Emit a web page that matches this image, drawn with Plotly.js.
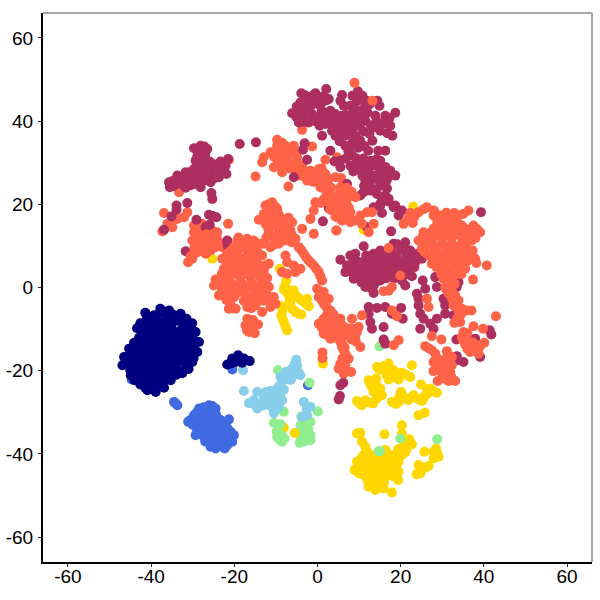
<!DOCTYPE html>
<html>
<head>
<meta charset="utf-8">
<script src="https://cdn.plot.ly/plotly-3.0.1.min.js"></script>
<style>html,body{margin:0;padding:0;background:#fff}</style>
</head>
<body>
<div id="chart" style="width:600px;height:600px"></div>
<script>
var tickVals = [-60, -40, -20, 0, 20, 40, 60];
var tickLabels = ['-60', '-40', '-20', '0', '20', '40', '60'];

// values, as [x, y]
var goldPts = [[22.7,-18.7],[14.3,-19.1],[17.1,-18.3],[15.9,-19.9],[18.3,-19.9],[20.3,-20.5],[22.3,-21.5],[19.5,-22.1],[17.1,-22.1],[12.3,-22.3],[14.1,-21.9],[13.1,-23.9],[15.1,-24.3],[13.5,-25.1],[15.5,-25.9],[14.3,-26.7],[9.5,-27.3],[10.6,-28.3],[11.5,-27.1],[13.4,-27.9],[24.9,-23.3],[20.1,-25.1],[17.9,-27.5],[19.5,-27.5],[21.1,-26.7],[23.1,-25.9],[21.9,-27.1],[25.1,-27.3],[25.9,-25.9],[27.1,-24.3],[28.7,-25.3],[24.3,-30.7],[25.8,-30.1],
[16,-18.9],[14.9,-19.7],[17,-20],[19.1,-20.6],[16.6,-21],[21.3,-21],[18.3,-21.5],[14,-23],[14.5,-25],[14.7,-25.8],[18.6,-27.8],[20.5,-26.3],[22.6,-26.4],[24.2,-26.8],[26.5,-25.5],[28,-25],[25.5,-26.5],[26.4,-24.5],[19.7,-26.3],[18.9,-28],[9.9,-27.7],[12.6,-27.7],[13.8,-24.6],[12.7,-23.2],
[10.3,-34.9],[9.5,-35.1],[16.1,-35.3],[20.3,-33.1],[20.3,-35.1],[10.7,-37.1],[11.5,-38.3],[21.1,-37.1],[22.7,-37.7],[21.5,-38.7],[16.3,-39.1],[25.7,-39.5],[27.9,-39.5],[29.1,-40.7],[27.9,-41.1],[20.3,-40.3],[19.5,-41.9],[11.1,-40.3],[13.5,-41.5],[16.7,-41.5],[9.5,-41.9],[8.9,-43.9],[10.3,-43.5],[11.9,-43.1],[14.3,-43.5],[16.3,-43.5],[17.9,-43.5],[11.1,-45.1],[13.1,-45.1],[15.1,-45.1],[17.1,-45.1],[19.5,-44.3],[19.4,-46.3],[12.3,-47.9],[13.9,-48.7],[15.9,-48.3],[13.1,-46.7],[15.1,-46.7],[17.9,-49.3],[24.3,-42.7],[26.7,-42.9],[24.7,-44.7],[23.8,-44.9],[12.7,-41.5],[14.7,-40.3],[11.1,-42.3],[15.1,-41.9],[12.1,-39.6],
[11.7,-39.2],[12.6,-40.3],[10.4,-41.2],[12,-41],[13.8,-42.5],[15.6,-42.6],[17.4,-42.4],[16.1,-40.4],[17.9,-41.9],[18.6,-42.8],[9.7,-42.8],[11,-44.2],[12.6,-44.1],[13.8,-44.4],[15.3,-44],[17.3,-44.3],[18.6,-44.4],[10,-44.7],[12,-45.6],[14,-45.7],[16,-45.6],[18,-45.3],[12,-46.3],[14,-47],[16,-46.9],[12.9,-47.8],[14.8,-47.9],[13.2,-43],[15.2,-43],[12.3,-43.9],[16,-41.9],[17.6,-40.3],[19.3,-40.3],[21.1,-39.6],[20.4,-38.5],[18.9,-43],[19.4,-38.9],[22.1,-36.5],[28.5,-38.7],[28.8,-39.8],[28.3,-40.5],[25.3,-43.5],[25.9,-43.3],
[-7.5,1.7],[-8.1,-0.5],[-5.7,-0.7],[-6.9,-1.9],[-4.9,-2.3],[-3.3,-3.5],[-2.1,-4.5],[-6.5,-4.3],[-5.3,-5.9],[-3.9,-6.5],[-8.7,-4.5],[-8.7,-6.7],[-8.1,-8.3],[-7.3,-10.3],[-25.3,6.9],[-27.7,9.9],[-9.1,4.5],[-2.5,-2.7],[-8.1,-33.7],[1.3,-18.3],[23,19.4],[11.1,13.9],
[-7.8,0.4],[-7,-0.8],[-6.3,-1.3],[-4.1,-2.9],[-6,-5.2],[-4.6,-6.3],[-8.4,-5.6],[-8.4,-7.5],[-7.7,-9.3],[-7.4,-1],[-6.3,-2.8],[-6.7,-3.2],[-2.7,-4]];
var goldTopPts = [[-5.5,-35]];
var greenPts = [[-9.5,-19.9],[-8.1,-29.9],[0.1,-29.8],[-3.9,-31],[-10.5,-32.5],[-8.9,-32.9],[-9.3,-35.1],[-8.5,-37.1],[-7.9,-36.3],[-9.7,-35.9],[-4.1,-33.1],[-1.7,-32.3],[-2.5,-33.9],[-4.1,-34.7],[-1.7,-35.5],[-2.9,-36.7],[-4.3,-37.3],[-1.7,-36.7],[-3.3,-35.5],
[-9.3,-36.5],[-3.1,-33.6],[-2.4,-35.2],[-3.9,-35.9],[-3.1,-37],[-2.2,-34.2],[-9.8,-34.7],[-3.5,-32.4],[-2.6,-32],[-8.6,-35.6],[-2.9,-34.6]];
var greenTopPts = [[-1.9,-22.9],[14.9,-14.2],[19.9,-36.3],[28.8,-36.5],[14.7,-39.4],[15,-39.4]];
var skyPts = [[-5.1,-17.4],[-4.9,-18.7],[-6.1,-19.5],[-7.7,-20.3],[-8.9,-21.5],[-4.1,-21.1],[-6.1,-21.5],[-8.3,-22.3],[-10.1,-24.7],[-8.1,-24.6],[-11.7,-25.5],[-14.5,-25.1],[-12.9,-26.7],[-10.5,-26.7],[-8.5,-27.1],[-15.3,-27.1],[-16.5,-27.8],[-14.5,-29.1],[-10.9,-28.7],[-10.5,-30.2],[-9.3,-28.7],[-3.3,-27.5],[-1.7,-28.7],[-2.5,-30.7],[-3.7,-31.1],[-17.7,-24.9],[-17.9,-19.9],[-6.9,-20.9],[-9.5,-25.6],[-11.3,-27.2],[-13.6,-27.9],
[-5,-20],[-7,-20.2],[-6.4,-22.2],[-9,-26],[-9.7,-27.7],[-11,-26.2],[-12.5,-25.2],[-13.3,-28.4],[-15,-28.2],[-11.4,-24.9],[-9.2,-23.7],[-10.1,-29.3],[-12,-28.2],[-2.6,-29.2],[-5.5,-18.4],[-4.6,-20.4],[-8,-21],[-7,-22.1]];
var royalPts = [[-26.1,-28.3],[-28.5,-29.1],[-24.5,-29.1],[-27.3,-29.9],[-25.3,-30.7],[-29.7,-30.7],[-30.5,-31.8],[-31.1,-32.3],[-28.9,-32.3],[-26.9,-31.9],[-24.1,-32.3],[-21.3,-31.7],[-22.1,-33.1],[-28.1,-33.9],[-25.7,-33.9],[-23.3,-34.3],[-20.9,-34.7],[-29.3,-35.5],[-27.3,-35.9],[-24.9,-35.5],[-22.5,-35.9],[-20.5,-37.1],[-26.1,-37.1],[-24.1,-37.5],[-21.7,-37.9],[-24.5,-38.7],[-22.3,-38.7],[-25.7,-38.3],[-20.1,-35.5],[-34.5,-27.5],[-33.7,-28.3],[-34.1,-27.9],[-20.5,-19.7],[-44.7,-22.1],[-2.3,-23.5],
[-27.3,-28.8],[-25.3,-28.5],[-29.1,-30.2],[-26.4,-30.5],[-28.2,-30.8],[-24.4,-30.6],[-30,-33],[-27.8,-32.8],[-25.7,-32.5],[-23.4,-31.8],[-29,-34],[-26.9,-34],[-24.7,-33.3],[-22.6,-32.6],[-21.6,-33.9],[-22.1,-34.8],[-28.3,-35],[-25.8,-35.4],[-23.7,-35.2],[-21.2,-36],[-27,-37],[-23.3,-36.6],[-25,-36.8],[-21.9,-36.8],[-23,-38.2],[-24.9,-37.7],[-20.8,-35.6]];
var navyPts = [[-35.7,-5.5],[-37.8,-5.1],[-41.4,-6.1],[-39.3,-6.7],[-42.6,-8.6],[-43.4,-9.8],[-32.9,-6.3],[-30.1,-8.6],[-29.3,-10.7],[-28.5,-13.1],[-28.9,-15.5],[-30.1,-17.9],[-45.3,-14.7],[-46.5,-16.7],[-46.9,-18.7],[-44.9,-21.1],[-42.6,-23.3],[-40.9,-24.7],[-38.9,-25.1],[-36.9,-24.1],[-35.3,-22.3],[-32.5,-20.6],
[-36.2,-7.2],[-33.8,-8],[-38.1,-8.3],[-31.7,-9.6],[-40.3,-9],[-35.1,-9.6],[-37.2,-10],[-33,-10.4],[-39.2,-10.8],[-41.4,-10.6],[-30.9,-11.9],[-34.6,-11.7],[-36.7,-12],[-32.6,-12.5],[-38.8,-12.6],[-42.9,-12.1],[-40.7,-12.7],[-44.1,-13.3],[-30.4,-14],[-34.4,-13.8],[-36.3,-14.2],[-32.2,-14.6],[-38.4,-14.6],[-42.2,-14.4],[-40.3,-14.9],[-44.4,-15.7],[-30.5,-16.2],[-34.1,-16],[-36.1,-16.3],[-32.2,-16.8],[-38.1,-16.6],[-42.2,-16.5],[-40,-17],[-44.1,-17.6],[-45.5,-18.7],[-31.6,-18.5],[-33.9,-18.1],[-35.9,-18.4],[-37.8,-18.7],[-42.1,-18.6],[-39.9,-19.1],[-44,-19.6],[-33.2,-19.9],[-35.4,-20.4],[-37.4,-20.6],[-39.5,-21],[-41.7,-20.7],[-43.2,-21.4],[-36.5,-22.1],[-38.7,-22.9],[-41,-22.7],[-37.2,-23.8],[-39.9,-24.4],[-41.4,-24.1],
[-34.8,-6.5],[-37,-6.2],[-31.5,-7.5],[-41,-7.6],[-38.7,-7.5],[-34.9,-8.2],[-32.4,-8.7],[-36.6,-8.7],[-41.7,-9.5],[-39,-9.3],[-30.3,-10.2],[-32,-11],[-33.8,-11],[-35.9,-11],[-37.9,-11.4],[-40.2,-11.3],[-42.2,-11.1],[-29.7,-12.7],[-31.6,-13.1],[-33.5,-12.9],[-35.5,-13],[-37.5,-13.3],[-39.7,-13.7],[-41.8,-13.3],[-43.5,-14.3],[-29.7,-15],[-31.4,-15.3],[-33.3,-15],[-35.2,-15.2],[-37.3,-15.5],[-39.3,-15.8],[-41.3,-15.6],[-43.3,-16.3],[-45.3,-16.8],[-29.8,-17],[-32.9,-17.4],[-35,-17.3],[-37,-17.6],[-39,-18],[-41.1,-17.8],[-43.2,-18.4],[-45,-19.9],[-31,-19.6],[-34.5,-19.4],[-36.7,-19.5],[-38.7,-20],[-40.8,-19.6],[-42.6,-20.1],[-34,-21],[-36.3,-21.3],[-38.3,-21.6],[-40.4,-21.8],[-42.4,-22.1],[-44,-22.3],[-37.5,-22.8],[-39.8,-23.4],
[-19.1,-16.3],[-20.5,-17.1],[-21.7,-18.5],[-17.7,-17.1],[-16.3,-17.7],[-19.7,-17.9],[-18.1,-18.1],[-18.9,-16.9],[-20.9,-18.3]];
var orangeBackPts = [[-3.7,37.9],[-9.7,35.5],[-12.9,31.3],[-13.3,30.1],[-9.7,34.1],[-7.7,34.1],[-5.7,34.1],[-1.3,33.9],[-11.3,32.5],[-9.3,32.1],[-6.9,32.1],[-4.9,31.3],[-10.5,28.9],[-8.5,29.3],[-6.9,30.1],[-8.5,27.7],[-5.7,28.5],[-3.7,29.3],[-4.1,26.9],[-1.7,28.1],[0.3,28.5],[1.9,30.7],[4.7,31.3],[-2.5,25.7],[-0.1,26.1],[1.9,27.3],[4.3,26.5],[5.7,26.3],[-14.9,26.7],[-7,24.3],[-21.3,30.7],[-28.3,26.9],[-33.3,22.9],[-36.9,17.9],[-35.3,15.7],[-36.1,15.3],[-37.3,13.5],[-33.7,16.5],[-31.3,18.1],[-32.1,16.9],[-34.9,14.5],[-29.7,14.9],[-27.7,15.3],[-21.5,15.3],[-29.7,13.3],[-27.7,13.7],[-25.3,13.7],[-24.1,13.3],[-22.9,9.7],[-23.7,10.9],[15.9,-12.7],
[-8.5,34.8],[-9.9,32.8],[-8,33.2],[-10.4,31.4],[-8,30.8],[-5.7,32.6],[-9.5,30.2],[-4.8,29.9],[-7,28.7],[-3.5,28],[-5,27.7],[-2.7,26.8],[-1,26.9],[-0.3,27.7],[1,28.6],[0.9,26],[-1,25.4],[2.5,25.5]];
var crimsonPts = [[-28.1,34.1],[-29.7,33.5],[-26.5,33.3],[-28.1,32.3],[-29.3,30.5],[-27.3,30.9],[-25.3,29.7],[-23.3,30.3],[-21.5,30.9],[-22.1,29.3],[-23.7,28.5],[-21.9,27.3],[-23.7,26.5],[-25.7,27.7],[-27.3,28.5],[-29.7,28.5],[-31.7,27.7],[-33.7,26.9],[-35.7,25.3],[-35.5,24.1],[-33.7,25.3],[-31.7,25.7],[-31.7,24],[-29.7,26.1],[-28.1,24.1],[-27.3,25.7],[-25.7,25.3],[-18.7,34.5],[-14.8,34.9],[-25.5,22.7],[-25.3,21.3],[-31.3,20.3],[-33.9,19.7],[-33.9,18.7],[-35.1,17.1],[-36.9,13.9],[-29.1,16.3],[-26.1,17.5],[-24.3,16.9],[-25.2,17.2],[-25.9,15.1],[-26.9,14.5],[-21.7,11.3],[-31.7,8.7],[-21.7,10.9],[-21.5,9.7],[-21.1,6.7],
[-29,33],[-27.2,33.9],[-28.9,31.5],[-27,32],[-27.7,29.5],[-25.9,30.3],[-24.3,29.6],[-28.8,27.5],[-30.8,26.8],[-32.6,26.2],[-34.8,25.6],[-34.6,24.4],[-32.6,24.8],[-30.5,24.6],[-29.3,24.9],[-26.8,26.9],[-24.8,26.3],[-22.8,27.8],[-25.9,29],[-26.3,27.9],[-30.5,27.8],[-28.5,25.7],
[2.1,47.7],[-3.9,46.7],[-0.5,46.7],[5.9,46.3],[-4.1,44.5],[-2.1,45.7],[1.9,44.9],[0.7,43.7],[2.7,45.3],[6.3,43.7],[-6.1,41.9],[-4.5,42.9],[-2.5,43.3],[-1.3,41.7],[-3.3,41.3],[-4.5,39.7],[-2.1,39.7],[0.3,40.9],[1.9,41.7],[1.9,39.3],[4.3,41.7],[5.9,41.3],[4.3,40.1],[7.5,40.9],[5.9,38.5],[7.5,38.9],[3.5,37.7],[5.1,36.5],[7.1,36.9],[1.1,36.5],[3.1,32.9],[-3.1,34.7],[-3.5,33.1],[-2.5,30.7],[4.1,30.3],[5.5,28.9],[7.1,24.9],[2.7,19.1],[1.3,15.9],[-5.7,26.5],
[-3,44.5],[-1.2,44],[-5,43.5],[-5.1,41],[-2.3,42.5],[-0.5,40],[0.8,39.8],[1,42.5],[1.5,46],[0.4,45.7],[2.9,40.8],[-3.3,39.8],[-4,42],[-1,46.3],[-3,46.2],
[5.5,44.9],[10.8,46.1],[6.7,40.1],[4.3,38.9],[7.9,37.7],[11.5,40.1],[10.3,35.3],[6.7,34.1],[13.9,41.3],[16.3,41.3],[18.7,42],[15.1,37.7],[17.5,38.9],[18,36.5],[13.2,35.3],[4.3,36.5],[5.5,30.5],[7.9,29.3],[11.5,29.3],[13.9,26.9],[11.5,25.7],[15.1,24.5],[12.7,23.3],[16.3,22.1],[17.5,28.1],[18.7,26.9],[16.3,32.9],[10.3,22.1],[18.7,19.7],[8.4,31.7],[15.1,19.7],[5.5,40.1],[6.7,36.5],[9.1,40.1],[9.1,36.5],[7.4,32.9],[10.3,42.5],[7.9,43.7],[8.4,46.1],[11.5,43.7],[14.4,44.9],[14.9,43.7],[3.1,42.5],[-0.5,44.9],[-4.1,43.7],[-4.1,40.1],[0.5,38.9],[9.6,29.3],[13.2,29.3],[15.1,30.5],[12.2,32.9],[14.6,32.9],[16.6,25.7],[13.2,26.5],[10.8,26.9],
[3.5,39],[5,39.5],[6.8,41.5],[8.4,41.5],[6.5,38],[8.7,38.6],[10.2,38.8],[11,37.5],[8.5,35],[5.3,35.2],[7.8,33.6],[9.8,33.6],[11.3,34],[12.5,37],[9.7,40.8],[10.7,41.5],[12,42],[12.8,39],[14.2,40],[14.2,38.5],[16,39.5],[17.3,40.7],[16.8,37.1],[11.8,44.9],[12.5,44],[9.5,44.8],[9.7,47.2],[8.6,43],[4,37.9],[6.8,31],[9.4,31],[11,31],[10.1,28.3],[8.6,27.9],[12.9,30.5],[14.2,30.8],[14.9,28.8],[16.3,29],[14.7,25.7],[12.5,24.8],[14,23.5],[16.7,23.8],[17,26.5],[15.5,27.5],[12.2,27.8],[17,20.7],[15.5,21],[11.2,24.4],
[39.3,18.1],[17.7,13.5],[11.9,14.5],[11.1,9.9],[5.5,6.7],[7.9,7.7],[9.1,8.1],[7.1,5.3],[8.3,3.7],[6.7,3.7],[8.7,2.1],[10.7,6.1],[12.7,6.9],[13.5,8.1],[15.1,8.9],[18.3,10.5],[21.1,10.9],[19.9,9.3],[22.3,8.9],[24.3,8.1],[21.5,7.3],[19.1,7.3],[16.7,7.3],[14.7,6.5],[12.3,4.9],[10.7,4.1],[14.3,4.5],[16.3,5.3],[18.7,5.3],[21.1,5.3],[23.5,6.1],[25.1,6.9],[10.7,2.1],[12.7,2.5],[11.5,0.1],[13.5,-1.3],[15.1,1.7],[17.1,3.3],[19.1,3.3],[20.3,1.7],[21.1,0.5],[22.7,2.7],[13.5,0.5],[9.5,4.9],
[9.3,6.5],[11.7,7.7],[14,7.8],[16,8.3],[17.8,8.5],[19.2,10.4],[20.7,9.6],[21.1,8.6],[23.3,8],[16,6.3],[18,6.5],[20,6.1],[22.4,6.7],[24.1,7],[9.3,3.5],[11.4,5.5],[13.3,5.8],[15.3,5.1],[17.3,4.5],[19.6,4.6],[21.7,3.9],[23.3,4.9],[9.5,2.7],[11.5,3.2],[13.6,3.4],[15.4,3.3],[16.4,2.2],[18.4,2.2],[10.6,1.2],[12.3,1.3],[14,1.3],[12.6,0],[20.9,3],[8.3,5.7],[7.8,5],
[11.1,22.9],[14.3,22.5],[17.1,21.3],[15.5,17.9],[18.3,19.3],[19.5,17.3],[13.5,19.3],[15.1,20.1],[20.3,18.5],
[25.3,1.7],[25.9,-0.3],[23.9,-1.5],[24.3,-2.7],[24.3,-4.3],[24.7,-6.3],[25.5,-7.5],[27.1,-8.7],[24.7,-9.9],[27.9,-9.9],[28.7,-7.5],[30.7,-6.3],[30.7,-4.3],[30.3,-2.7],[28.3,2.5],[28.7,0.1],[33.9,1.3],[33.5,0.1],[32.7,-6.7],
[12.3,-4.7],[14.3,-4.9],[16.3,-4.7],[12.3,-6.3],[12.7,-8.3],[13.1,-9.9],[15.9,-9.5],[17.9,-6.3],[20.1,-4.9],[18.7,-5.9],[20.5,-7.5],[15.9,-12.5],[16.3,-13.5],[33.4,-12.5],[37.9,-12.3],[41.4,-10.3],[41.8,-11.3],[33.5,-16.5],[35.1,-17.9],[33.5,-17.5],[39.1,-16.7],[6.2,-22.9],[5.4,-26.1],[5.1,-26.9],[5.5,-23.5]];
var orangePts = [[8.9,49.2],[13.2,44.9],[0.7,24.1],[2.3,22.5],[5.5,24.1],[6.7,22.9],[4.3,21.3],[2.7,20.5],[5.9,20.5],[7.5,19.3],[4.7,16.9],[5.9,16.1],[7.5,16.9],[4.5,13.7],[-0.5,20.5],[0.7,20.3],[-0.9,18.5],[-1.7,16.5],[-0.9,12.9],[-3.7,14.1],
[1.7,23.7],[3.3,24],[3.2,22],[5.2,22.5],[1.5,21.2],[4.6,19.8],[6.4,18],[3.1,18.7],[5.2,17.5],[7,21],[8.2,23],[2.4,26.3],[7,24],
[-10.9,20.5],[-12.5,19.7],[-9.7,18.9],[-12.9,17.7],[-10.9,17.3],[-8.5,16.5],[-14.1,16.3],[-12.5,15.3],[-10.5,14.9],[-6.1,15.7],[-6.5,13.7],[-8.5,13.3],[-11.7,12.9],[-5.3,11.7],[-7.7,11.3],[-9.3,10.5],[-12.9,10.5],[-11.3,9.7],[-10.1,18],[-8.6,15],[-7,16.8],
[-11.8,20],[-10.2,19.5],[-11.6,18.5],[-9.3,17.5],[-12,16.7],[-10,16.2],[-7.6,15.2],[-7.1,14.6],[-11.2,15.5],[-9.7,15],[-11.8,14],[-9.5,13],[-10.5,12.2],[-8,12.5],[-6.2,12.7],[-12.3,12],[-10,11.5],[-8.7,11.8],[-6.2,10.9],[-10.6,10.2],
[-30.1,11.3],[-28.1,11.7],[-26.1,11.7],[-26.5,9.7],[-24.5,9.7],[-29.7,8.1],[-30.1,6.9],[-31.1,6.1],[-26.9,8.1],[-28.9,8.5],
[-28.9,13],[-26.7,12.8],[-25,12.7],[-29.2,10.2],[-27.7,10.7],[-25.4,10.5],[-24.7,11.3],[-29.6,9.5],[-27.3,9],[-25.7,8.9],[-30.5,7.5],[-24.2,11.8],[-28.5,12.2],
[-19.3,11.3],[-16.9,11.7],[-15.3,11.3],[-20.1,9.7],[-17.7,9.7],[-15.7,9.3],[-13.7,10.5],[-13.3,7.7],[-21.7,8.1],[-22.9,6.9],[-19.3,7.7],[-16.9,7.7],[-14.9,7.3],[-22.5,4.5],[-20.5,5.3],[-18.1,5.3],[-15.7,5.3],[-11.7,5.7],[-12.9,4.1],[-19.7,3.3],[-17.3,3.3],[-14.9,3.3],[-24.5,1.9],[-22.1,2.1],[-12.1,2.3],[-24.9,0.5],[-22.9,0.5],[-20.5,0.9],[-18.1,0.9],[-15.7,0.9],[-13.7,0.9],[-11.7,0.1],[-23.7,-1.9],[-21.3,-1.1],[-18.9,-1.1],[-16.5,-2.3],[-14.1,-2.3],[-12.1,-1.9],[-10.5,-2.3],[-20.9,-3.9],[-21.3,-5.1],[-19.7,-5.1],[-16.9,-4.7],[-14.9,-4.3],[-13.3,-5.9],[-11.3,-4.7],[-10.1,-3.9],[-16.9,-7.5],[-17.3,-9.1],[-16.1,-8.7],[-14.3,-8.9],[-16.5,-10.7],[-15.1,-11],
[-19,12],[-17.9,10.9],[-15.9,10.2],[-14.7,10.2],[-19,9],[-16.5,8.6],[-14.4,8.5],[-20.9,8.8],[-18,7],[-15.8,6.8],[-20.8,6.6],[-19.4,6.1],[-17,5.9],[-14.5,5.8],[-21.8,5.7],[-16.4,4.3],[-18.7,4.3],[-21,4.2],[-13.9,4.7],[-12.6,5.3],[-23,3.3],[-21,3],[-18.5,2.3],[-16,2.2],[-13.6,2.2],[-24,1],[-21.6,1.1],[-19.3,0.3],[-17,0],[-14.8,-0.2],[-12.8,0.5],[-23,-0.8],[-20.2,-0.3],[-17.6,-1.3],[-15.1,-1.3],[-13,-1],[-22.3,-2],[-20,-2.2],[-17.7,-3.2],[-15.4,-3.1],[-13,-3.2],[-21.9,-3],[-20.4,-5],[-15.9,-5],[-11.3,-3.3],[-16.3,-8.8],[-15.7,-9.9],[-17,-10.2],[-15.5,-7.8],
[-7.7,7.7],[-7.3,6.1],[-8.5,3.7],[-7.3,3.3],[-5.7,5.3],[-4.1,4.5],[-5.3,3.7],[-4.5,9.7],[-3.3,8.1],[-2.1,6.5],[-0.9,5.3],[0.3,3.7],[1.1,1.7],[-0.1,-0.3],[1.5,-1.1],[0.3,-2.3],[2.7,-2.7],[1.5,-3.9],[3.1,-5.5],[1.5,-7.5],[0.3,-8.7],[3.5,-7.5],[5.5,-7.5],[1.9,-9.9],[3.5,-9.5],[1.5,-11.1],[3.1,-12.3],[4.3,-10.7],[7.1,-11.5],[5.9,-13.5],[6.3,-15.1],[1.2,-15.6],[1.2,-17],
[-3.9,9],[-2.7,7.2],[-1.5,5.9],[-0.3,4.5],[0.7,2.7],[0.5,-1.1],[1,-3],[2.1,-4.6],[2.3,-6.5],[2.5,-8.3],[4.5,-8.3],[1,-9.6],[2.5,-10.5],[2.4,-11.5],[4,-12],[6,-11.5],[6.5,-14.4],[6,-17],[6.5,-19.5],
[3.5,-7.1],[4.7,-9.5],[8.3,-7.5],[9.9,-9.5],[7.1,-11.1],[9.1,-11.9],[10.3,-14.3],[5.5,-13.1],[5.9,-14.3],[6.7,-15.9],[7.5,-17.1],[5.5,-18.3],[6.7,-18.7],[6.3,-20.7],[8.1,-20.3],[5.1,-19.5],
[6.6,-9.6],[8.2,-9.8],[7.9,-11],[9.5,-10.7],[5.8,-9],[9.2,-13],[8.2,-12.5],[3.9,-6.5],
[36.3,18.5],[32.9,17.9],[31.5,16.5],[29.5,17.3],[26.3,19.3],[24.3,18.1],[22.3,17.9],[27.9,17.3],[20.7,15.3],[22.9,15.5],[25.5,13.3],[27.9,14.1],[30.3,14.9],[32.7,15.3],[34.7,14.9],[37.5,14.9],[39.1,13.3],[24.3,11.3],[26.3,11.7],[28.7,12.5],[31.1,12.9],[33.5,12.9],[35.9,12.9],[37.1,11.3],[25.1,9.3],[27.5,10.1],[29.9,10.5],[32.3,10.5],[34.7,10.5],[37.3,8.9],[26.7,7.7],[29.1,8.1],[31.5,8.5],[33.9,8.5],[35.9,8.9],[37.9,6.9],[38.2,5.9],[40.7,5.3],[27.5,5.7],[29.9,6.1],[32.3,6.5],[34.7,6.5],[29.5,4.1],[31.5,4.1],[33.5,4.5],[35.5,4.5],[37.4,1.9],[30.3,2.1],[32.3,2.1],[30.7,0.1],[32.3,-0.3],[31.5,-1.5],[33.1,-1.9],[33.9,-3.1],[32.7,-4.3],[33.9,-5.5],[35.9,-5.5],[34.5,-6.5],[32.9,-8.5],[34.3,-8.3],[42.9,-6.9],[37.5,-9.3],[39.8,-9.9],[35.1,-10.7],[34.7,-11.9],[35.9,-12.3],[35.5,-13.7],[37.1,-14.3],[38.3,-13.9],[40.1,-13.3],[36.7,-15.5],[38.7,-15.9],[27.5,-11.7],[29.8,-12.5],[25.9,-14.1],[27.5,-15.1],[28.3,-15.9],[27.9,-17.9],[31.1,-15.3],[32.3,-16.7],[30.7,-18.3],[32.3,-18.7],[27.9,-20.1],[29.9,-20.3],[31.9,-20.3],[30.3,-21.9],[28.9,-22.5],[33.1,-22.5],[31.5,-22.5],
[30,16.2],[33.5,16.5],[31,18],[28.8,15.6],[31.1,14.8],[33.5,14.5],[35.7,14],[26.5,13],[29.5,13.5],[32,13.5],[34.5,13.5],[36.7,13.4],[38.4,14],[25.3,12.2],[27.6,11.4],[30,11.8],[32.3,11.8],[34.8,11.9],[36.5,12],[38,11.9],[26,10.2],[28.7,9.6],[31,9.8],[33.4,9.8],[35.7,10.2],[25.8,8.5],[28,8.3],[30.3,8],[32.8,7.7],[35,7.7],[36.8,8],[27.8,7],[30.8,7],[33.5,6.2],[36,6.3],[28.6,4.9],[30.5,5.2],[32.9,5.3],[34.9,5],[30.4,3],[32.9,3],[34.6,3.2],[31.4,2.8],[29.8,3.2],[31.3,1.1],[33,0.9],[31,-0.6],[32.4,-2.8],[33.3,-4.1],[34.7,-5.1],[37,-5.5],[33.6,-7.4],[36.8,13],[35,17.7],[25.5,18.8],[23.3,17],[21.8,16.6],[28,18.5],
[36,-11],[35,-12.7],[36.3,-13],[37.3,-13.2],[37.9,-15],[39,-14.3],[36,-14.7],[29.2,-17.3],[31.2,-16.5],[30.8,-19.7],[29.2,-19.5],[31.3,-21.2],[30,-21],[32.2,-21.5],[31.2,-17.4],[26.7,-14.6],
[17.1,9.5],[4.6,13.7],[19.9,2.9],[17.9,0.1],[15.9,-0.9],[17.1,-0.8],[26.3,-2.7],[26.7,-4.7],[10.7,-6.7],[19.1,-6.9],[17.9,-5.5],[19.5,-12.7],[18.3,-13.9],[13.5,15.3],[12.3,13.3],
[4.7,21.7],[3.1,20.5],[6.3,22.5],[9.1,21.7],[6.7,19.7],[5.1,19.3],[4.3,17.1],[5.9,16.1],[7.9,18.1],[9.1,16.1],[10.3,17.3],[11.9,18.1],[13.1,18.1],[10.7,15.3],[7.9,15.7]];

function toTrace(pts, color) {
    return {
        x: pts.map(function (p) { return p[0]; }),
        y: pts.map(function (p) { return p[1]; }),
        type: 'scatter',
        mode: 'markers',
        hoverinfo: 'skip',
        marker: { size: 10, color: color, line: { width: 0 } }
    };
}

function axis(standoff) {
    return {
        range: [-66, 66],
        tickmode: 'array',
        tickvals: tickVals,
        ticktext: tickLabels,
        ticks: 'outside',
        ticklen: 3,
        tickwidth: 1,
        tickcolor: '#222',
        ticklabelstandoff: standoff,
        tickfont: { family: 'Liberation Sans, Arial, sans-serif', size: 19, color: '#000' },
        showgrid: false,
        zeroline: false,
        showline: true,
        linecolor: '#000',
        linewidth: 2
    };
}

var traces = [
    toTrace(goldPts, '#FFD700'),
    toTrace(greenPts, '#90EE90'),
    toTrace(royalPts, '#4169E1'),
    toTrace(skyPts, '#87CEEB'),
    toTrace(goldTopPts, '#FFD700'),
    toTrace(greenTopPts, '#90EE90'),
    toTrace(navyPts, '#000080'),
    toTrace(orangeBackPts, '#FF6347'),
    toTrace(crimsonPts, '#AD2F5F'),
    toTrace(orangePts, '#FF6347')
];

var layout = {
    width: 600,
    height: 600,
    showlegend: false,
    paper_bgcolor: '#fff',
    plot_bgcolor: '#fff',
    margin: { l: 43, r: 8, t: 13, b: 38 },
    xaxis: axis(-7),
    yaxis: axis(1),
    shapes: [
        { type: 'line', xref: 'paper', yref: 'paper', x0: 0, x1: 1, y0: 1, y1: 1, line: { color: '#a6a6a6', width: 2 } },
        { type: 'line', xref: 'paper', yref: 'paper', x0: 1, x1: 1, y0: 0, y1: 1, line: { color: '#a6a6a6', width: 2 } }
    ]
};

Plotly.newPlot('chart', traces, layout, { displayModeBar: false, staticPlot: true });
</script>
</body>
</html>
